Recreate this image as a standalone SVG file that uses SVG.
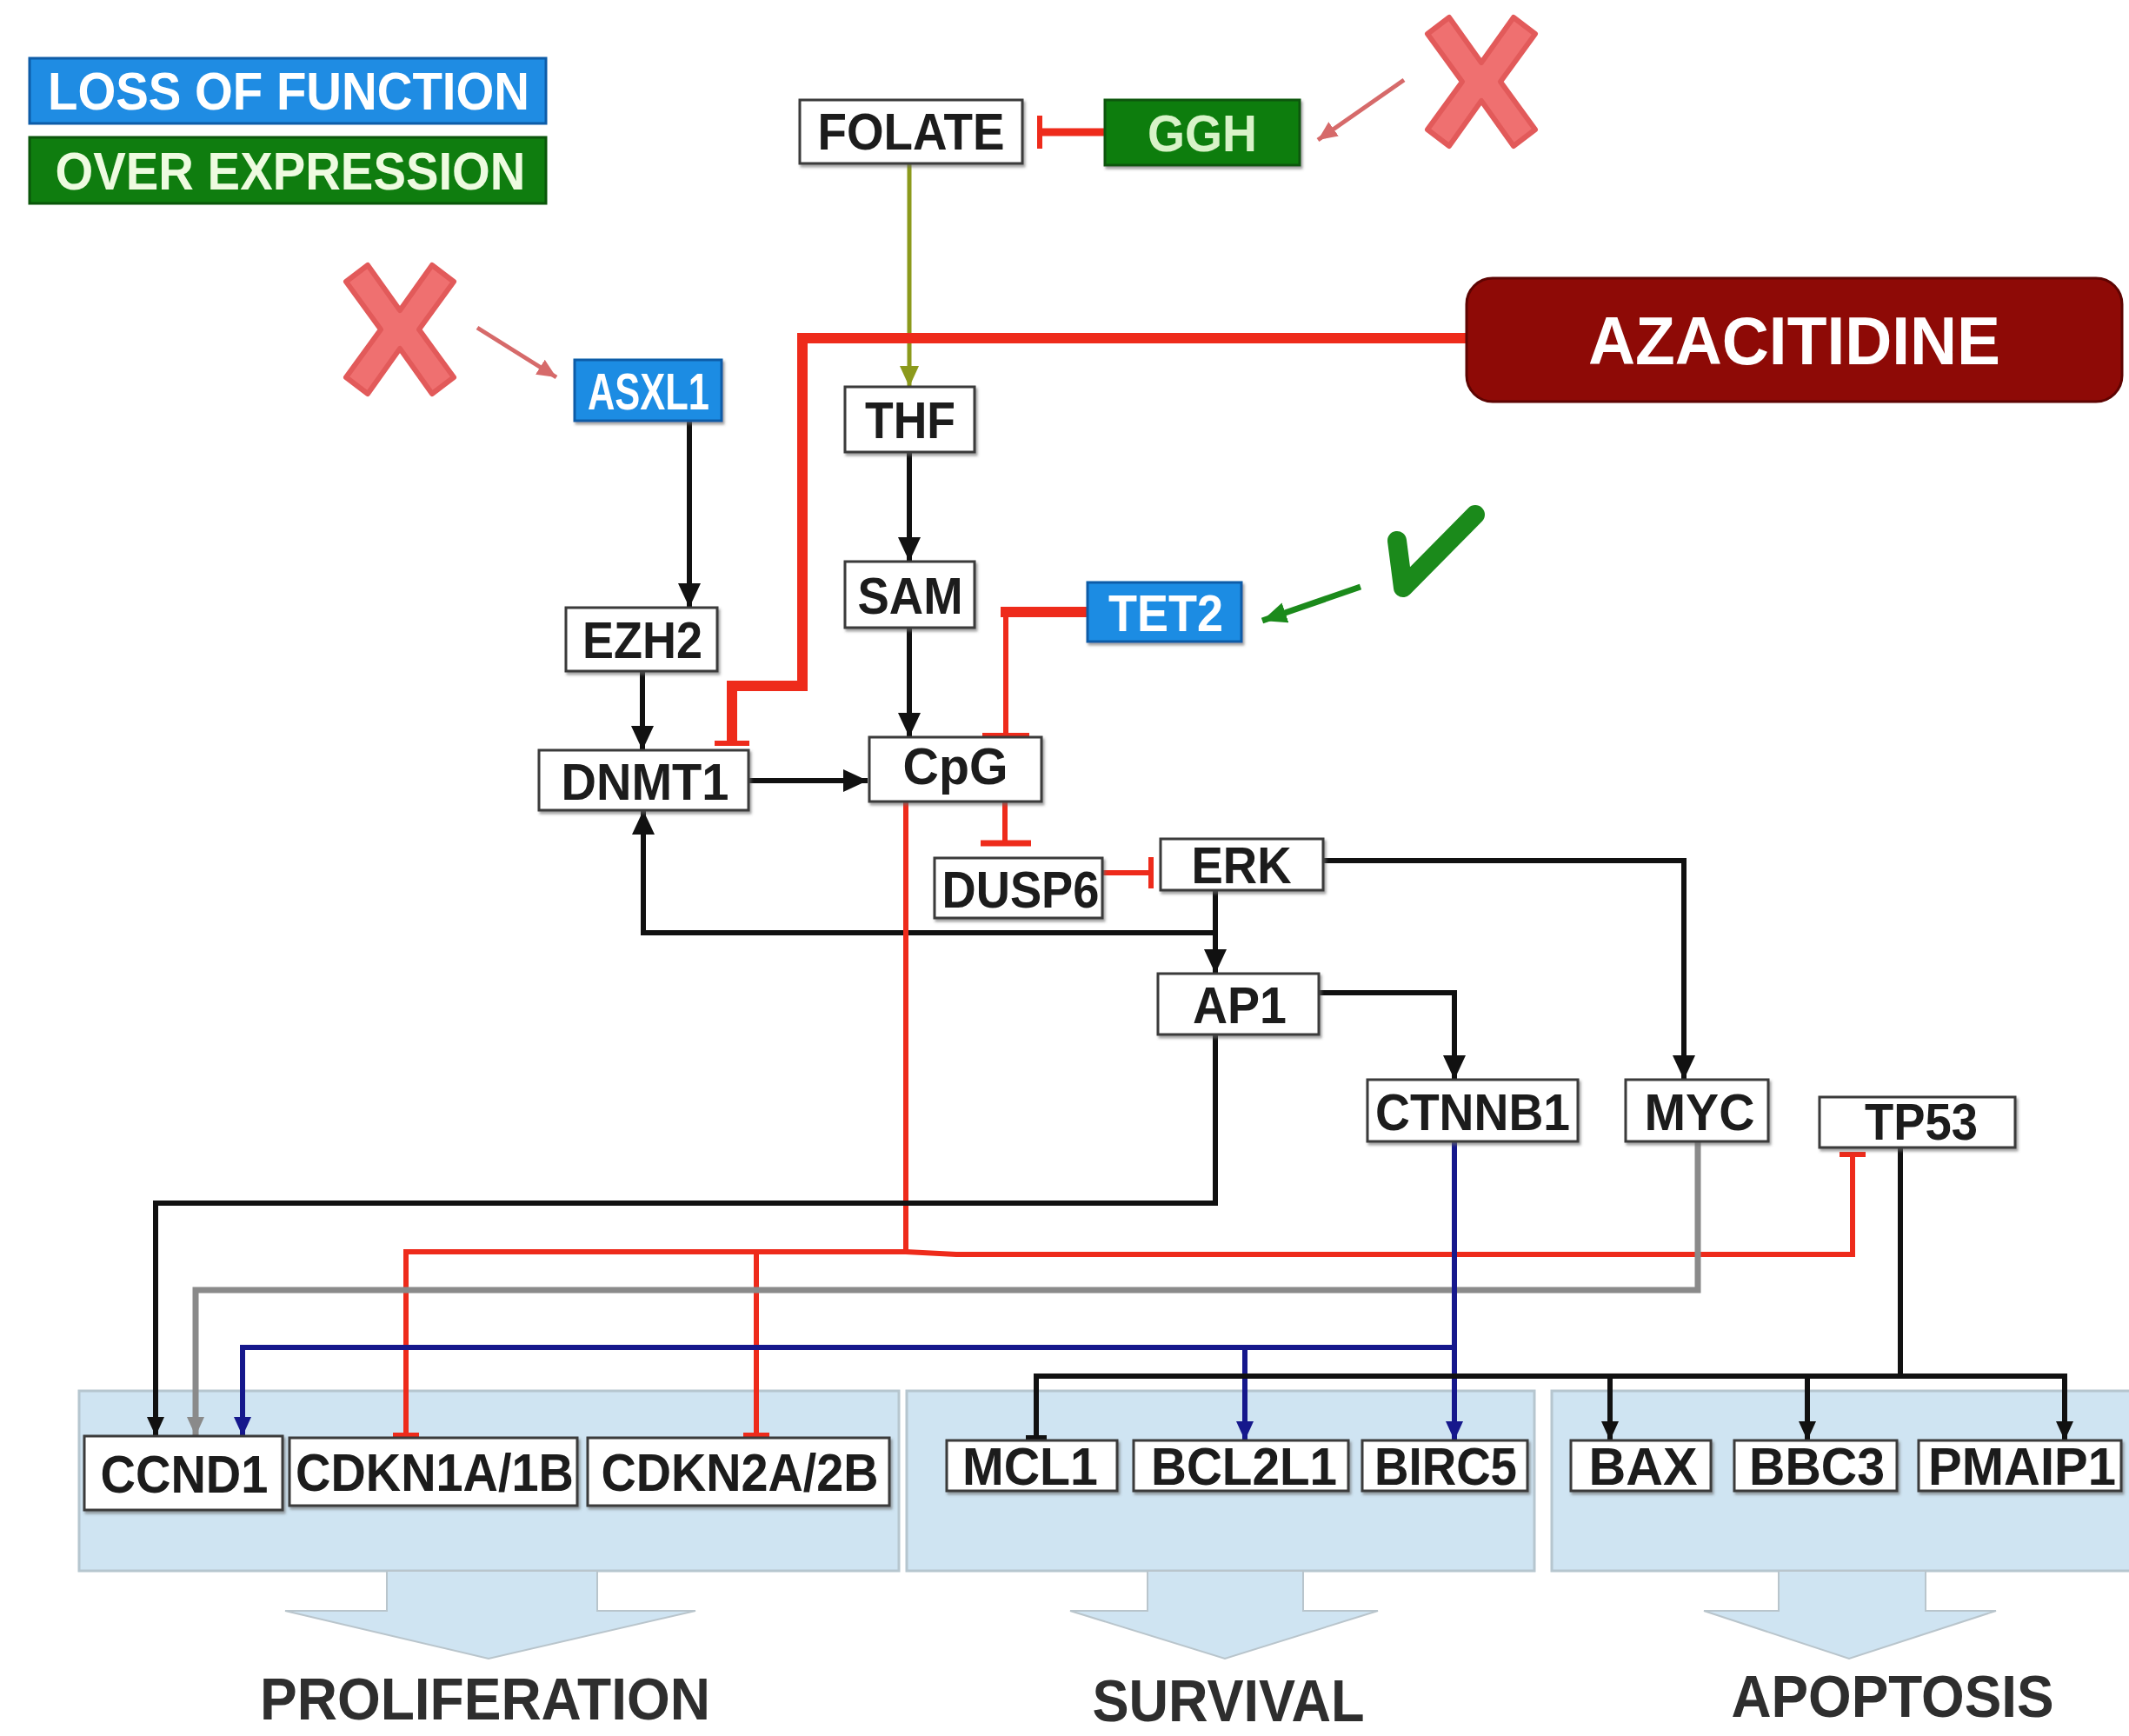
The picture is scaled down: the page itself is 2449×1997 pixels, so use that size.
<svg xmlns="http://www.w3.org/2000/svg" width="2449" height="1997" viewBox="0 0 2449 1997">
<defs>
<style>
.lbl{font-family:"Liberation Sans",Arial,sans-serif;font-weight:bold;font-size:60px;text-anchor:middle;fill:#1a1a1a}
.lblw{font-family:"Liberation Sans",Arial,sans-serif;font-weight:bold;font-size:60px;text-anchor:middle;fill:#ffffff}
.sm{font-size:62px}
.big{font-family:"Liberation Sans",Arial,sans-serif;font-weight:bold;font-size:68px;text-anchor:middle;fill:#2e2e2e}
.box{fill:#ffffff;stroke:#3a3a3a;stroke-width:3}
.blue{fill:#1f8ce3;stroke:#0d5ca8;stroke-width:3}
.green{fill:#0f7d0f;stroke:#0a560a;stroke-width:3}
.panel{fill:#cfe4f2;stroke:#b6c6cf;stroke-width:3}
.barrow{fill:#cfe4f2;stroke:#b9c5cc;stroke-width:2}
.ln{fill:none;stroke-linejoin:miter}
.k{stroke:#111111;stroke-width:6}
.r{stroke:#ee2b1b;stroke-width:6}
.g{stroke:#8a8a8a;stroke-width:7}
.b{stroke:#16188c;stroke-width:6}
</style>
<filter id="sh" x="-10%" y="-10%" width="130%" height="140%">
<feDropShadow dx="2" dy="3" stdDeviation="1.5" flood-color="#666" flood-opacity="0.6"/>
</filter>
<marker id="ak" markerUnits="userSpaceOnUse" markerWidth="30" markerHeight="30" refX="28" refY="15" orient="auto"><path d="M0,2 L28,15 L0,28 z" fill="#111"/></marker>
<marker id="aks" markerUnits="userSpaceOnUse" markerWidth="24" markerHeight="22" refX="22" refY="11" orient="auto"><path d="M0,1 L22,11 L0,21 z" fill="#111"/></marker>
<marker id="ag" markerUnits="userSpaceOnUse" markerWidth="24" markerHeight="22" refX="22" refY="11" orient="auto"><path d="M0,1 L22,11 L0,21 z" fill="#8a8a8a"/></marker>
<marker id="ab" markerUnits="userSpaceOnUse" markerWidth="24" markerHeight="22" refX="22" refY="11" orient="auto"><path d="M0,1 L22,11 L0,21 z" fill="#16188c"/></marker>
<marker id="ao" markerUnits="userSpaceOnUse" markerWidth="26" markerHeight="26" refX="24" refY="13" orient="auto"><path d="M0,2 L24,13 L0,24 z" fill="#8c9a1c"/></marker>
<marker id="as" markerUnits="userSpaceOnUse" markerWidth="24" markerHeight="22" refX="22" refY="11" orient="auto"><path d="M0,1 L22,11 L0,21 z" fill="#d66a6a"/></marker>
<marker id="agr" markerUnits="userSpaceOnUse" markerWidth="30" markerHeight="26" refX="28" refY="13" orient="auto"><path d="M0,1 L28,13 L0,25 z" fill="#1b8a1b"/></marker>
<path id="xmark" d="M-62,-55 L-37,-74 L0,-22 L37,-74 L62,-55 L22,0 L62,55 L37,74 L0,22 L-37,74 L-62,55 L-22,0 Z" fill="#ef7070" stroke="#e25a5a" stroke-width="6" stroke-linejoin="round"/>
</defs>
<rect width="2449" height="1997" fill="#ffffff"/>

<!-- legend -->
<g id="legend-loss">
<rect x="34" y="67" width="594" height="75" class="blue"/>
<text x="332" y="126" class="lblw" style="font-size:62px" textLength="554" lengthAdjust="spacingAndGlyphs">LOSS OF FUNCTION</text>
</g>
<g id="legend-over">
<rect x="34" y="158" width="594" height="76" class="green"/>
<text x="334" y="218" class="lblw" style="fill:#eefbe0;font-size:62px" textLength="541" lengthAdjust="spacingAndGlyphs">OVER EXPRESSION</text>
</g>

<!-- bottom panels -->
<g id="panel-proliferation">
<rect x="91" y="1600" width="943" height="207" class="panel"/>
<path d="M445,1807 H687 V1853 H800 L562,1908 L328,1853 H445 Z" class="barrow"/>
<text x="558" y="1978" class="big" textLength="518" lengthAdjust="spacingAndGlyphs">PROLIFERATION</text>
</g>
<g id="panel-survival">
<rect x="1043" y="1600" width="722" height="207" class="panel"/>
<path d="M1320,1807 H1499 V1853 H1585 L1409,1908 L1231,1853 H1320 Z" class="barrow"/>
<text x="1413" y="1980" class="big" textLength="313" lengthAdjust="spacingAndGlyphs">SURVIVAL</text>
</g>
<g id="panel-apoptosis">
<rect x="1785" y="1600" width="670" height="207" class="panel"/>
<path d="M2046,1807 H2215 V1853 H2296 L2127,1908 L1960,1853 H2046 Z" class="barrow"/>
<text x="2177" y="1975" class="big" textLength="371" lengthAdjust="spacingAndGlyphs">APOPTOSIS</text>
</g>

<!-- connectors -->
<g id="connectors" class="ln">
<!-- GGH inhibits FOLATE -->
<line x1="1271" y1="152" x2="1196" y2="152" stroke="#ee2b1b" stroke-width="9"/>
<line x1="1196" y1="133" x2="1196" y2="171" stroke="#ee2b1b" stroke-width="6"/>
<!-- FOLATE -> THF -->
<line x1="1046" y1="188" x2="1046" y2="445" stroke="#8c9a1c" stroke-width="5" marker-end="url(#ao)"/>
<!-- AZACITIDINE inhibits DNMT1 -->
<path d="M1687,389 H923 V789 H842 V852" stroke="#ee2b1b" stroke-width="12"/>
<line x1="822" y1="855" x2="862" y2="855" stroke="#ee2b1b" stroke-width="6"/>
<!-- ASXL1 -> EZH2 -->
<line x1="793" y1="484" x2="793" y2="699" class="k" stroke-width="7" marker-end="url(#ak)"/>
<!-- EZH2 -> DNMT1 -->
<line x1="739" y1="772" x2="739" y2="863" class="k" stroke-width="7" marker-end="url(#ak)"/>
<!-- THF -> SAM -->
<line x1="1046" y1="520" x2="1046" y2="646" class="k" marker-end="url(#ak)"/>
<!-- SAM -> CpG -->
<line x1="1046" y1="722" x2="1046" y2="848" class="k" marker-end="url(#ak)"/>
<!-- DNMT1 -> CpG -->
<line x1="861" y1="898" x2="998" y2="898" class="k" stroke-width="8" marker-end="url(#ak)"/>
<!-- TET2 inhibits CpG -->
<line x1="1251" y1="704" x2="1151" y2="704" stroke="#ee2b1b" stroke-width="12"/>
<line x1="1157" y1="704" x2="1157" y2="844" stroke="#ee2b1b" stroke-width="6"/>
<line x1="1130" y1="846" x2="1184" y2="846" stroke="#ee2b1b" stroke-width="6"/>
<!-- CpG inhibits DUSP6 -->
<line x1="1156" y1="922" x2="1156" y2="968" class="r"/>
<line x1="1128" y1="970" x2="1186" y2="970" stroke="#ee2b1b" stroke-width="7"/>
<!-- DUSP6 inhibits ERK -->
<line x1="1268" y1="1004" x2="1322" y2="1004" class="r"/>
<line x1="1324" y1="986" x2="1324" y2="1022" class="r"/>
<!-- ERK -> AP1 -->
<line x1="1398" y1="1024" x2="1398" y2="1120" class="k" marker-end="url(#ak)"/>
<!-- ERK -> DNMT1 -->
<path d="M1398,1073 H740 V932" class="k" marker-end="url(#ak)"/>
<!-- ERK -> MYC -->
<path d="M1522,990 H1937 V1242" class="k" marker-end="url(#ak)"/>
<!-- AP1 -> CTNNB1 -->
<path d="M1517,1142 H1673 V1242" class="k" stroke-width="8" marker-end="url(#ak)"/>
<!-- CpG inhibits CDKN1A/1B, CDKN2A/2B, TP53 -->
<line x1="1042" y1="922" x2="1042" y2="1440" class="r"/>
<path d="M467,1648 V1440 H1042 L1100,1443 H2131 V1331" class="r"/>
<line x1="870" y1="1440" x2="870" y2="1648" class="r"/>
<line x1="452" y1="1651" x2="482" y2="1651" class="r"/>
<line x1="855" y1="1651" x2="885" y2="1651" class="r"/>
<line x1="2116" y1="1328" x2="2146" y2="1328" class="r"/>
<!-- AP1 -> CCND1 -->
<path d="M1398,1190 V1384 H179 V1652" class="k" stroke-width="8" marker-end="url(#aks)"/>
<!-- MYC -> CCND1 -->
<path d="M1953,1313 V1484 H225 V1652" class="g" marker-end="url(#ag)"/>
<!-- CTNNB1 -> BIRC5, BCL2L1, CCND1 -->
<line x1="1673" y1="1313" x2="1673" y2="1657" class="b" marker-end="url(#ab)"/>
<path d="M1673,1550 H279 V1652" class="b" stroke-width="7" marker-end="url(#ab)"/>
<line x1="1432" y1="1550" x2="1432" y2="1657" class="b" marker-end="url(#ab)"/>
<!-- TP53 -> BAX, BBC3, PMAIP1 ; inhibits MCL1 -->
<line x1="2186" y1="1320" x2="2186" y2="1583" class="k"/>
<path d="M1192,1655 V1583 H2375 V1657" class="k" marker-end="url(#aks)"/>
<line x1="1852" y1="1583" x2="1852" y2="1657" class="k" marker-end="url(#aks)"/>
<line x1="2079" y1="1583" x2="2079" y2="1657" class="k" marker-end="url(#aks)"/>
<line x1="1180" y1="1654" x2="1204" y2="1654" class="k" stroke-width="5"/>
<!-- pointers -->
<line x1="549" y1="377" x2="640" y2="434" stroke="#d66a6a" stroke-width="5" marker-end="url(#as)"/>
<line x1="1615" y1="92" x2="1516" y2="161" stroke="#d66a6a" stroke-width="5" marker-end="url(#as)"/>
<line x1="1565" y1="675" x2="1452" y2="714" stroke="#1b8a1b" stroke-width="7" marker-end="url(#agr)"/>
</g>

<!-- markers: crosses and check -->
<g id="cross-asxl1"><use href="#xmark" transform="translate(460,379)"/></g>
<g id="cross-ggh"><use href="#xmark" transform="translate(1704,94)"/></g>
<g id="check-tet2"><path d="M1607,622 L1614,676 L1697,592" fill="none" stroke="#1b8a1b" stroke-width="22" stroke-linecap="round" stroke-linejoin="round"/></g>

<!-- nodes -->
<g id="node-azacitidine">
<rect x="1687" y="320" width="754" height="142" rx="30" fill="#8e0a06" stroke="#5e0402" stroke-width="3"/>
<text x="2064" y="419" class="lblw" style="font-size:78px" textLength="474" lengthAdjust="spacingAndGlyphs">AZACITIDINE</text>
</g>
<g id="node-folate" filter="url(#sh)"><rect x="920" y="115" width="256" height="73" class="box"/><text x="1048" y="172" class="lbl" textLength="215" lengthAdjust="spacingAndGlyphs">FOLATE</text></g>
<g id="node-ggh" filter="url(#sh)"><rect x="1271" y="115" width="224" height="75" class="green"/><text x="1383" y="174" class="lblw" style="fill:#d8f3c8" textLength="126" lengthAdjust="spacingAndGlyphs">GGH</text></g>
<g id="node-asxl1" filter="url(#sh)"><rect x="661" y="414" width="169" height="70" class="blue"/><text x="746" y="471" class="lblw" textLength="140" lengthAdjust="spacingAndGlyphs">ASXL1</text></g>
<g id="node-thf" filter="url(#sh)"><rect x="972" y="445" width="149" height="75" class="box"/><text x="1047" y="504" class="lbl" textLength="104" lengthAdjust="spacingAndGlyphs">THF</text></g>
<g id="node-sam" filter="url(#sh)"><rect x="972" y="646" width="149" height="76" class="box"/><text x="1047" y="706" class="lbl" textLength="121" lengthAdjust="spacingAndGlyphs">SAM</text></g>
<g id="node-ezh2" filter="url(#sh)"><rect x="651" y="699" width="174" height="73" class="box"/><text x="739" y="757" class="lbl" textLength="138" lengthAdjust="spacingAndGlyphs">EZH2</text></g>
<g id="node-dnmt1" filter="url(#sh)"><rect x="620" y="863" width="241" height="69" class="box"/><text x="742" y="920" class="lbl" textLength="193" lengthAdjust="spacingAndGlyphs">DNMT1</text></g>
<g id="node-cpg" filter="url(#sh)"><rect x="1000" y="848" width="198" height="74" class="box"/><text x="1099" y="902" class="lbl" textLength="121" lengthAdjust="spacingAndGlyphs">CpG</text></g>
<g id="node-tet2" filter="url(#sh)"><rect x="1251" y="670" width="177" height="68" class="blue"/><text x="1341" y="726" class="lblw" textLength="132" lengthAdjust="spacingAndGlyphs">TET2</text></g>
<g id="node-dusp6" filter="url(#sh)"><rect x="1075" y="987" width="193" height="69" class="box"/><text x="1174" y="1044" class="lbl" textLength="181" lengthAdjust="spacingAndGlyphs">DUSP6</text></g>
<g id="node-erk" filter="url(#sh)"><rect x="1335" y="965" width="187" height="59" class="box"/><text x="1428" y="1016" class="lbl" textLength="115" lengthAdjust="spacingAndGlyphs">ERK</text></g>
<g id="node-ap1" filter="url(#sh)"><rect x="1332" y="1120" width="185" height="70" class="box"/><text x="1426" y="1177" class="lbl" textLength="108" lengthAdjust="spacingAndGlyphs">AP1</text></g>
<g id="node-ctnnb1" filter="url(#sh)"><rect x="1573" y="1242" width="242" height="71" class="box"/><text x="1694" y="1300" class="lbl" textLength="224" lengthAdjust="spacingAndGlyphs">CTNNB1</text></g>
<g id="node-myc" filter="url(#sh)"><rect x="1870" y="1242" width="164" height="71" class="box"/><text x="1955" y="1300" class="lbl" textLength="127" lengthAdjust="spacingAndGlyphs">MYC</text></g>
<g id="node-tp53" filter="url(#sh)"><rect x="2093" y="1262" width="225" height="58" class="box"/><text x="2210" y="1311" class="lbl" textLength="130" lengthAdjust="spacingAndGlyphs">TP53</text></g>

<g id="node-ccnd1" filter="url(#sh)"><rect x="97" y="1652" width="228" height="85" class="box"/><text x="212" y="1717" class="lbl sm" textLength="193" lengthAdjust="spacingAndGlyphs">CCND1</text></g>
<g id="node-cdkn1a" filter="url(#sh)"><rect x="333" y="1654" width="331" height="78" class="box"/><text x="500" y="1715" class="lbl sm" textLength="320" lengthAdjust="spacingAndGlyphs">CDKN1A/1B</text></g>
<g id="node-cdkn2a" filter="url(#sh)"><rect x="676" y="1654" width="347" height="78" class="box"/><text x="851" y="1715" class="lbl sm" textLength="319" lengthAdjust="spacingAndGlyphs">CDKN2A/2B</text></g>
<g id="node-mcl1" filter="url(#sh)"><rect x="1089" y="1657" width="196" height="58" class="box"/><text x="1185" y="1708" class="lbl sm" textLength="156" lengthAdjust="spacingAndGlyphs">MCL1</text></g>
<g id="node-bcl2l1" filter="url(#sh)"><rect x="1304" y="1657" width="247" height="58" class="box"/><text x="1431" y="1708" class="lbl sm" textLength="214" lengthAdjust="spacingAndGlyphs">BCL2L1</text></g>
<g id="node-birc5" filter="url(#sh)"><rect x="1567" y="1657" width="190" height="58" class="box"/><text x="1663" y="1708" class="lbl sm" textLength="164" lengthAdjust="spacingAndGlyphs">BIRC5</text></g>
<g id="node-bax" filter="url(#sh)"><rect x="1807" y="1657" width="161" height="58" class="box"/><text x="1890" y="1708" class="lbl sm" textLength="125" lengthAdjust="spacingAndGlyphs">BAX</text></g>
<g id="node-bbc3" filter="url(#sh)"><rect x="1995" y="1657" width="187" height="58" class="box"/><text x="2090" y="1708" class="lbl sm" textLength="156" lengthAdjust="spacingAndGlyphs">BBC3</text></g>
<g id="node-pmaip1" filter="url(#sh)"><rect x="2207" y="1657" width="233" height="58" class="box"/><text x="2326" y="1708" class="lbl sm" textLength="216" lengthAdjust="spacingAndGlyphs">PMAIP1</text></g>
</svg>
